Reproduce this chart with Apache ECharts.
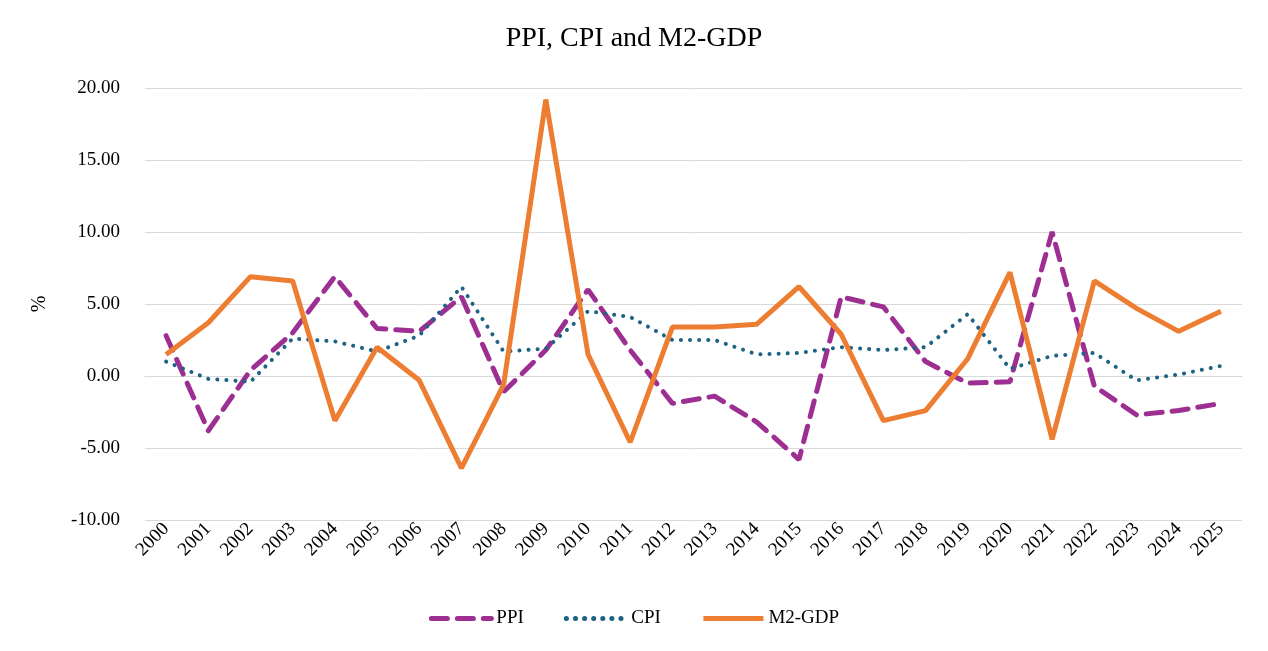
<!DOCTYPE html>
<html>
<head>
<meta charset="utf-8">
<script src="https://cdn.jsdelivr.net/npm/echarts@6/dist/echarts.min.js"></script>
<style>html,body{margin:0;padding:0;background:#fff}#chart{width:1268px;height:651px}</style>
</head>
<body>
<div id="chart"></div>
<script>
var years = ['2000','2001','2002','2003','2004','2005','2006','2007','2008','2009','2010','2011','2012',
	'2013','2014','2015','2016','2017','2018','2019','2020','2021','2022','2023','2024','2025'];
var ppi = [2.8, -3.8, 0.4, 3.0, 6.9, 3.3, 3.1, 5.5, -1.1, 1.8, 6.0, 1.8, -1.9,
	-1.4, -3.2, -5.8, 5.5, 4.8, 1.0, -0.5, -0.4, 10.0, -0.7, -2.7, -2.4, -1.9];
var cpi = [1.0, -0.2, -0.4, 2.6, 2.4, 1.7, 2.8, 6.2, 1.7, 1.9, 4.5, 4.1, 2.5,
	2.5, 1.5, 1.6, 2.0, 1.8, 2.0, 4.3, 0.5, 1.4, 1.6, -0.3, 0.1, 0.7];
var m2gdp = [1.5, 3.7, 6.9, 6.6, -3.1, 2.0, -0.3, -6.4, -0.6, 19.2, 1.5, -4.6, 3.4,
	3.4, 3.6, 6.2, 2.9, -3.1, -2.4, 1.2, 7.2, -4.4, 6.6, 4.7, 3.1, 4.5];

var font = 'Liberation Serif';
var chart = echarts.init(document.getElementById('chart'));
chart.setOption({
	backgroundColor: '#fff',
	animation: false,
	textStyle: { fontFamily: font },
	title: {
		text: 'PPI, CPI and M2-GDP',
		left: 'center',
		top: 20,
		textStyle: { fontFamily: font, fontSize: 28, fontWeight: 'normal', color: '#000' }
	},
	legend: {
		bottom: 18,
		itemWidth: 60,
		itemHeight: 10,
		itemGap: 40,
		itemStyle: { opacity: 0 },
		lineStyle: { width: 5 },
		textStyle: { fontFamily: font, fontSize: 19, color: '#000' },
		data: ['PPI', 'CPI', 'M2-GDP']
	},
	grid: { left: 145, right: 26, top: 88, bottom: 131 },
	xAxis: {
		type: 'category',
		data: years,
		axisLine: { lineStyle: { color: '#d9d9d9' } },
		axisTick: { show: false },
		axisLabel: { rotate: 45, color: '#000', fontSize: 19, fontFamily: font, interval: 0, margin: 6 }
	},
	yAxis: {
		type: 'value',
		min: -10, max: 20, interval: 5,
		name: '%',
		nameLocation: 'middle',
		nameGap: 95,
		nameTextStyle: { fontFamily: font, fontSize: 20, color: '#000' },
		axisLabel: { color: '#000', fontSize: 19, fontFamily: font, margin: 25,
			formatter: function (v) { return v.toFixed(2); } },
		splitLine: { lineStyle: { color: '#d9d9d9' } }
	},
	series: [
		{ name: 'PPI', type: 'line', data: ppi, symbol: 'none', z: 2,
			lineStyle: { color: '#9E2F92', width: 5, type: [16, 10], cap: 'round' },
			itemStyle: { color: '#9E2F92' } },
		{ name: 'CPI', type: 'line', data: cpi, symbol: 'none', z: 3,
			lineStyle: { color: '#1E6384', width: 4, type: [0.1, 9], cap: 'round' },
			itemStyle: { color: '#1E6384' } },
		{ name: 'M2-GDP', type: 'line', data: m2gdp, symbol: 'none', z: 4,
			lineStyle: { color: '#ED7D31', width: 5 },
			itemStyle: { color: '#ED7D31' } }
	]
});
</script>
</body>
</html>
